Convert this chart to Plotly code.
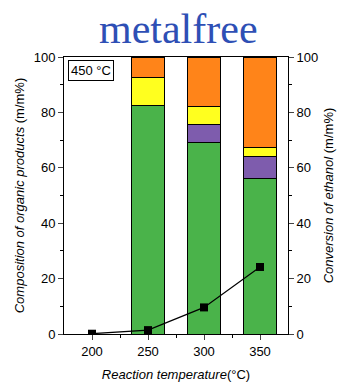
import plotly.graph_objects as go

# Reaction temperatures (°C)
temps = [250, 300, 350]
conv_temps = [200, 250, 300, 350]

# Composition of organic products (m/m%), stacked bottom to top
green = [82.5, 69.3, 56.0]
purple = [0.0, 6.5, 8.0]
yellow = [10.0, 6.2, 3.3]
orange = [7.5, 18.0, 32.4]

# Conversion of ethanol (m/m%)
conversion = [0.1, 1.4, 9.6, 24.2]

colors = {"green": "#4ab34a", "purple": "#7e5cad", "yellow": "#ffff1f", "orange": "#ff8419"}

fig = go.Figure()
for name, vals in [("green", green), ("purple", purple), ("yellow", yellow), ("orange", orange)]:
    fig.add_trace(go.Bar(
        x=temps, y=vals, width=30, marker=dict(color=colors[name], line=dict(color="black", width=1)),
        showlegend=False, hoverinfo="skip"))

fig.add_trace(go.Scatter(
    x=conv_temps, y=conversion, yaxis="y2", mode="lines+markers",
    line=dict(color="black", width=1.2),
    marker=dict(symbol="square", size=8, color="black"), showlegend=False))

tickfont = dict(family="Arial, Liberation Sans", size=13, color="black")
titlefont = dict(family="Arial, Liberation Sans", size=13, color="black")

fig.update_layout(
    width=340, height=382, barmode="stack",
    margin=dict(l=64, r=52, t=57, b=48, autoexpand=False),
    plot_bgcolor="white", paper_bgcolor="white",
    xaxis=dict(range=[175, 375], tickvals=[200, 250, 300, 350], ticks="outside", ticklen=5,
               minor=dict(tickvals=[225, 275, 325], ticks="outside", ticklen=3, tickcolor="black"),
               showline=True, linecolor="black", mirror=True, tickfont=tickfont, showgrid=False,
               zeroline=False, automargin=False,
               title=dict(text="<i>Reaction temperature</i>(°C)", font=titlefont, standoff=12)),
    yaxis=dict(range=[0, 100], dtick=20, ticks="outside", ticklen=5,
               minor=dict(dtick=10, ticks="outside", ticklen=3, tickcolor="black"),
               showline=True, linecolor="black", tickfont=tickfont, showgrid=False, zeroline=False,
               automargin=False,
               title=dict(text="<i>Composition of organic products</i> (m/m%)", font=titlefont, standoff=6)),
    yaxis2=dict(range=[0, 100], dtick=20, ticks="outside", ticklen=5, overlaying="y", side="right",
                minor=dict(dtick=10, ticks="outside", ticklen=3, tickcolor="black"),
                showline=True, linecolor="black", tickfont=tickfont, showgrid=False, zeroline=False,
                automargin=False,
                title=dict(text="<i>Conversion of ethanol</i> (m/m%)", font=titlefont, standoff=6)),
    annotations=[
        dict(text="metalfree", x=0.51, y=1, xref="paper", yref="paper", xanchor="center",
             yanchor="bottom", yshift=3, showarrow=False,
             font=dict(family="Liberation Serif, Times New Roman, serif", size=42, color="#2e4fb5")),
        dict(text="450 °C", x=0.02, y=0.99, xref="paper", yref="paper", xanchor="left",
             yanchor="top", showarrow=False, bordercolor="black", borderwidth=1, borderpad=2,
             bgcolor="white", font=dict(family="Arial, Liberation Sans", size=13, color="black")),
    ],
)

fig.write_html("out.html")
